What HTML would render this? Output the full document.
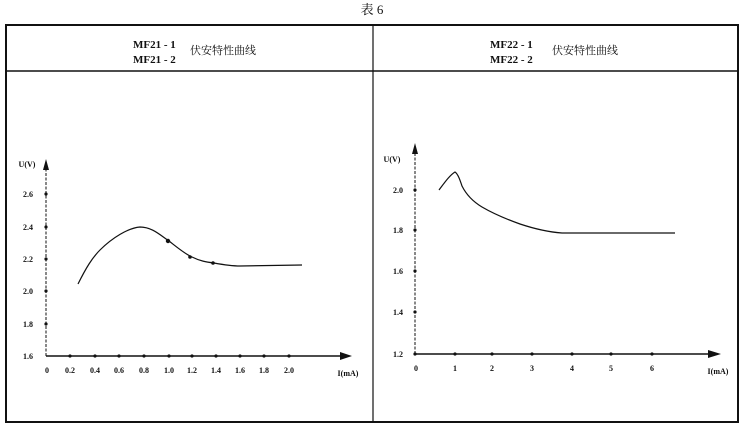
<!DOCTYPE html>
<html><head><meta charset="utf-8"><style>
html,body{margin:0;padding:0;background:#fff;}
svg{display:block}
text{font-family:"Liberation Serif","Noto Serif CJK SC",serif;fill:#111}
</style></head><body>
<svg width="745" height="433" viewBox="0 0 745 433" xmlns="http://www.w3.org/2000/svg">
<text x="372" y="14" font-size="13" text-anchor="middle" font-family="Liberation Sans,Noto Sans CJK SC,sans-serif">表 6</text>
<rect x="6" y="25" width="732" height="397" fill="none" stroke="#111" stroke-width="2"/>
<line x1="6" y1="71" x2="738" y2="71" stroke="#111" stroke-width="1.5"/>
<line x1="373" y1="25" x2="373" y2="422" stroke="#111" stroke-width="1.2"/>
<g font-size="11" font-weight="bold">
<text x="133" y="48">MF21 - 1</text><text x="133" y="63">MF21 - 2</text>
<text x="190" y="54" font-family="Noto Sans CJK SC,sans-serif" font-weight="normal">伏安特性曲线</text>
<text x="490" y="48">MF22 - 1</text><text x="490" y="63">MF22 - 2</text>
<text x="552" y="54" font-family="Noto Sans CJK SC,sans-serif" font-weight="normal">伏安特性曲线</text>
</g>
<!-- left chart -->
<g stroke="#111" fill="none">
<line x1="46" y1="356" x2="46" y2="166" stroke-dasharray="3,1.5"/>
<line x1="46" y1="356" x2="345" y2="356" stroke-width="1.5"/>
<path d="M78 284 C86 268 92 258 100 250 C112 238 128 228 140 227 C152 227 160 235 169 241 C178 248 185 254 192 257 C200 261 206 262 214 263 C225 265 232 266 240 266 L302 265" stroke-width="1.2"/>
</g>
<polygon points="46,159 43,170 49,170" fill="#111"/>
<polygon points="352,356 340,352 340,360" fill="#111"/>
<g fill="#111">
<circle cx="46" cy="194" r="1.6"/><circle cx="46" cy="227" r="1.6"/><circle cx="46" cy="259" r="1.6"/><circle cx="46" cy="291" r="1.6"/><circle cx="46" cy="324" r="1.6"/>
<circle cx="70" cy="356" r="1.6"/><circle cx="95" cy="356" r="1.6"/><circle cx="119" cy="356" r="1.6"/><circle cx="144" cy="356" r="1.6"/><circle cx="169" cy="356" r="1.6"/><circle cx="192" cy="356" r="1.6"/><circle cx="216" cy="356" r="1.6"/><circle cx="240" cy="356" r="1.6"/><circle cx="264" cy="356" r="1.6"/><circle cx="289" cy="356" r="1.6"/>
<circle cx="168" cy="241" r="2.2"/><circle cx="190" cy="257" r="1.8"/><circle cx="213" cy="263" r="1.8"/>
</g>
<g font-size="8" font-weight="bold" text-anchor="middle">
<text x="28" y="197">2.6</text><text x="28" y="230">2.4</text><text x="28" y="262">2.2</text><text x="28" y="294">2.0</text><text x="28" y="327">1.8</text><text x="28" y="359">1.6</text>
<text x="47" y="373">0</text><text x="70" y="373">0.2</text><text x="95" y="373">0.4</text><text x="119" y="373">0.6</text><text x="144" y="373">0.8</text><text x="169" y="373">1.0</text><text x="192" y="373">1.2</text><text x="216" y="373">1.4</text><text x="240" y="373">1.6</text><text x="264" y="373">1.8</text><text x="289" y="373">2.0</text>
<text x="348" y="376">I(mA)</text>
<text x="27" y="167">U(V)</text>
</g>
<!-- right chart -->
<g stroke="#111" fill="none">
<line x1="415" y1="354" x2="415" y2="150" stroke-dasharray="3,1.5"/>
<line x1="415" y1="354" x2="712" y2="354" stroke-width="1.5"/>
<path d="M439 190 C445 182 450 175 455 172 C458 174 460 180 462 186 C466 194 472 201 482 207 C494 214 506 219 520 224 C535 229 548 232 562 233 L675 233" stroke-width="1.2"/>
</g>
<polygon points="415,143 412,154 418,154" fill="#111"/>
<polygon points="721,354 708,350 708,358" fill="#111"/>
<g fill="#111">
<circle cx="415" cy="190" r="1.6"/><circle cx="415" cy="230" r="1.6"/><circle cx="415" cy="271" r="1.6"/><circle cx="415" cy="312" r="1.6"/><circle cx="415" cy="354" r="1.6"/>
<circle cx="455" cy="354" r="1.6"/><circle cx="492" cy="354" r="1.6"/><circle cx="532" cy="354" r="1.6"/><circle cx="572" cy="354" r="1.6"/><circle cx="611" cy="354" r="1.6"/><circle cx="652" cy="354" r="1.6"/>
</g>
<g font-size="8" font-weight="bold" text-anchor="middle">
<text x="398" y="193">2.0</text><text x="398" y="233">1.8</text><text x="398" y="274">1.6</text><text x="398" y="315">1.4</text><text x="398" y="357">1.2</text>
<text x="416" y="371">0</text><text x="455" y="371">1</text><text x="492" y="371">2</text><text x="532" y="371">3</text><text x="572" y="371">4</text><text x="611" y="371">5</text><text x="652" y="371">6</text>
<text x="718" y="374">I(mA)</text>
<text x="392" y="162">U(V)</text>
</g>
</svg>
</body></html>
